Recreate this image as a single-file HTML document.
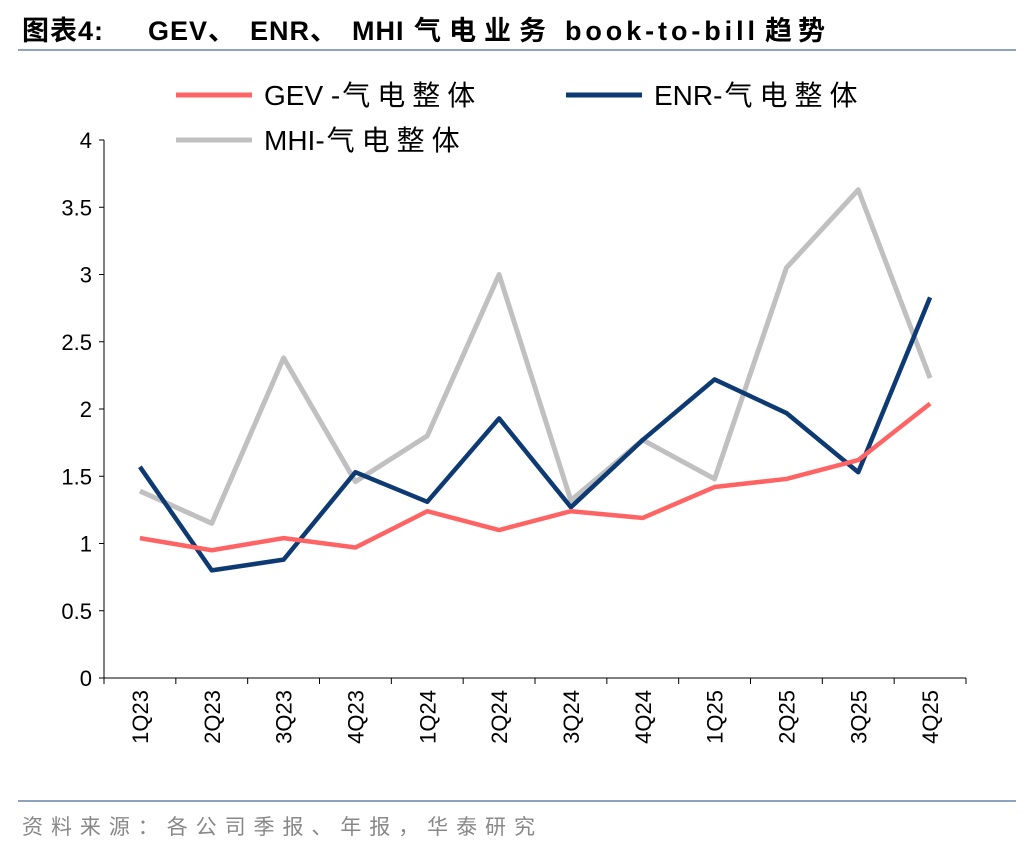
<!DOCTYPE html>
<html><head><meta charset="utf-8"><style>
body{margin:0;background:#fff;width:1036px;height:852px;overflow:hidden;font-family:"Liberation Sans","Noto Sans CJK SC",sans-serif}
</style></head><body>
<svg width="1036" height="852" xmlns="http://www.w3.org/2000/svg">
<text y="40" font-size="27" font-weight="bold" fill="#000" font-family="Liberation Sans, Noto Sans CJK SC, sans-serif"><tspan x="22" letter-spacing="1">图表4:</tspan><tspan x="148" letter-spacing="1">GEV、</tspan><tspan x="250" letter-spacing="1">ENR、</tspan><tspan x="352" letter-spacing="1">MHI</tspan><tspan x="414" letter-spacing="8">气电业务</tspan><tspan x="565" textLength="190" lengthAdjust="spacing">book-to-bill</tspan><tspan x="765" letter-spacing="6">趋势</tspan></text>
<line x1="18" y1="50" x2="1016" y2="50" stroke="#8ea3bf" stroke-width="2"/>
<line x1="18" y1="801" x2="1016" y2="801" stroke="#8ea3bf" stroke-width="2"/>
<text x="22" y="834" font-size="21" fill="#888" textLength="513" lengthAdjust="spacing" font-family="Liberation Sans, Noto Sans CJK SC, sans-serif">资料来源：各公司季报、年报，华泰研究</text>
<g id="legend"></g>
<g id="axes"></g>
<g id="series"></g>
</svg>
<script>
const categories=["1Q23","2Q23","3Q23","4Q23","1Q24","2Q24","3Q24","4Q24","1Q25","2Q25","3Q25","4Q25"];
const gevValues=[1.04,0.95,1.04,0.97,1.24,1.10,1.24,1.19,1.42,1.48,1.62,2.04];
const enrValues=[1.57,0.80,0.88,1.53,1.31,1.93,1.27,1.77,2.22,1.97,1.53,2.83];
const mhiValues=[1.39,1.15,2.38,1.46,1.80,3.00,1.32,1.77,1.48,3.05,3.63,2.23];
const yTicks=[0,0.5,1,1.5,2,2.5,3,3.5,4];
const yTickLabels=["0","0.5","1","1.5","2","2.5","3","3.5","4"];
const seriesPrefixes=["GEV -","ENR-","MHI-"];
const seriesSuffix="气电整体";
const NS="http://www.w3.org/2000/svg";
const X0=104,X1=966,Y0=678,Y1=140,YMAX=4;
const bw=(X1-X0)/categories.length;
const xs=i=>X0+bw*(i+0.5);
const ys=v=>Y0-(v/YMAX)*(Y0-Y1);
function mk(tag,attrs,parent){const e=document.createElementNS(NS,tag);for(const k in attrs)e.setAttribute(k,attrs[k]);parent.appendChild(e);return e;}
const axes=document.getElementById('axes');
let yl=mk('line',{x1:X0,y1:Y1,x2:X0,y2:Y0,stroke:'#000','stroke-width':1},axes);


let xl=mk('line',{x1:X0,y1:Y0,x2:X1,y2:Y0,stroke:'#000','stroke-width':1},axes);


yTicks.forEach((v,i)=>{
  mk('line',{x1:X0-5,y1:ys(v),x2:X0,y2:ys(v),stroke:'#000'},axes);
  const t=mk('text',{x:X0-12,y:ys(v)+8,'font-size':22,'text-anchor':'end',fill:'#000'},axes);
  t.textContent=yTickLabels[i];
  
  
});
for(let i=0;i<=categories.length;i++){mk('line',{x1:X0+bw*i,y1:Y0,x2:X0+bw*i,y2:Y0+6,stroke:'#000'},axes);}
categories.forEach((c,i)=>{
  const t=mk('text',{x:0,y:0,'font-size':22,'text-anchor':'end',fill:'#000',transform:`translate(${xs(i)+8},${Y0+12}) rotate(-90)`},axes);
  t.textContent=c;
  
  
});
const ser=document.getElementById('series');
const colors=["#ff6464","#0e3a73","#c0c0c0"];
const data=[gevValues,enrValues,mhiValues];
const names=["gev-line","enr-line","mhi-line"];
[2,1,0].forEach(k=>{
  const p=mk('polyline',{points:data[k].map((v,i)=>xs(i)+','+ys(v)).join(' '),fill:'none',stroke:colors[k],'stroke-width':k==2?5:4.5,'stroke-linejoin':'round'},ser);
  
  
});
const lg=document.getElementById('legend');
const lpos=[[176,95],[566,95],[176,140]];
seriesPrefixes.forEach((n,k)=>{
  mk('line',{x1:lpos[k][0],y1:lpos[k][1],x2:lpos[k][0]+76,y2:lpos[k][1],stroke:colors[k],'stroke-width':5},lg);
  const t=mk('text',{x:lpos[k][0]+88,y:lpos[k][1]+10,'font-size':28,fill:'#000'},lg);
  const a=mk('tspan',{},t); a.textContent=n;
  const b=mk('tspan',{'letter-spacing':7,dx:2},t); b.textContent=seriesSuffix;
  
  
});
</script>
</body></html>
